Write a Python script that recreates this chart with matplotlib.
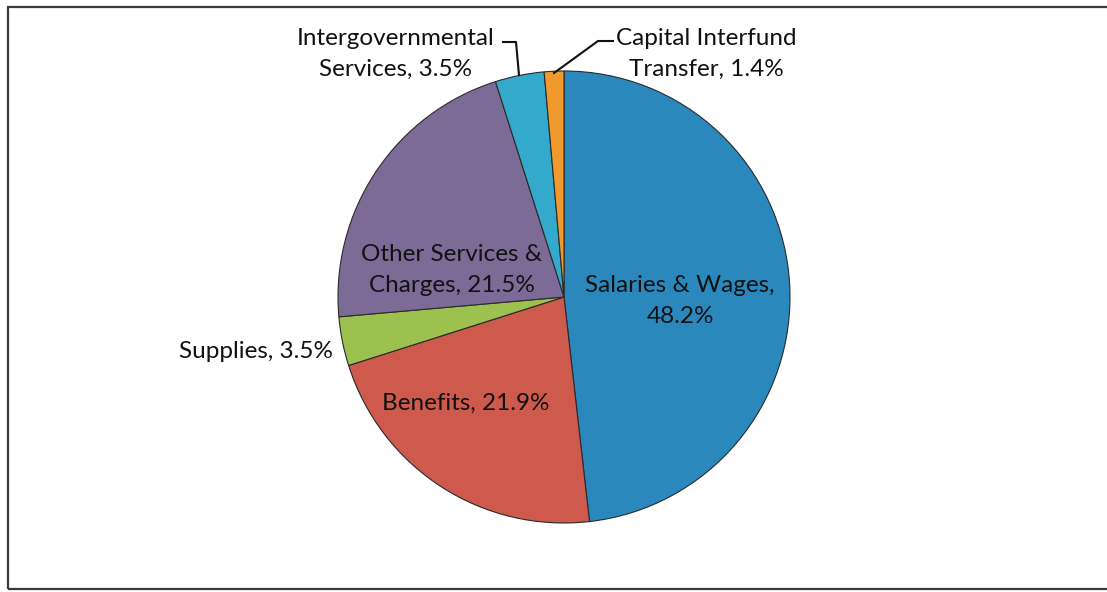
import matplotlib
matplotlib.use("Agg")
import matplotlib.pyplot as plt
from matplotlib.patches import Rectangle

# chart data, clockwise from 12 o'clock
categories = ["Salaries & Wages", "Benefits", "Supplies",
              "Other Services & Charges", "Intergovernmental Services",
              "Capital Interfund Transfer"]
shares = [48.2, 21.9, 3.5, 21.5, 3.5, 1.4]
label_texts = ["Salaries & Wages,\n48.2%", "Benefits, 21.9%", "Supplies, 3.5%",
               "Other Services &\nCharges, 21.5%", "Intergovernmental\nServices, 3.5%",
               "Capital Interfund\nTransfer, 1.4%"]
colors = ["#2b88bd", "#cd5a4c", "#9cc14e", "#7d6b97", "#33a9cc", "#f09a2e"]

W, H = 1107, 592
plt.rcParams['font.family'] = ['Lato', 'DejaVu Sans']

fig = plt.figure(figsize=(W / 100, H / 100), dpi=100)
ax = fig.add_axes([0, 0, 1, 1])

# frame around the chart (right side runs off the image)
ax.add_patch(Rectangle((8, 3), W + 20, H - 10, fill=False,
                       edgecolor="#3a3a3a", linewidth=1.6, clip_on=False))

cx, cy, R = 564, 295, 226
wedges, _ = ax.pie(shares, colors=colors, startangle=90, counterclock=False,
                   center=(cx, cy), radius=R, frame=True,
                   wedgeprops=dict(edgecolor="#2a2a2a", linewidth=0.8))
ax.set_xlim(0, W)
ax.set_ylim(0, H)
ax.set_aspect('equal')
ax.axis('off')

fs = 17.5
txt = dict(fontsize=fs, color="#111111", linespacing=1.6)

# labels inside the pie
ax.text(680, H - 301, label_texts[0], ha='center', va='center', **txt)
ax.text(466, H - 403, label_texts[1], ha='center', va='center', **txt)
ax.text(452, H - 270, label_texts[3], ha='center', va='center', **txt)

# labels outside the pie
ax.text(333, H - 352, label_texts[2], ha='right', va='center', **txt)
ax.text(396, H - 54, label_texts[4], ha='center', va='center', **txt)
ax.text(706, H - 54, label_texts[5], ha='center', va='center', **txt)

# leader lines
ax.plot([503, 516, 519], [H - 42, H - 42, H - 75], color="#111111", lw=1.5)
ax.plot([613, 598, 554], [H - 41, H - 41, H - 73], color="#111111", lw=1.5)

fig.savefig("out.png", dpi=100)
